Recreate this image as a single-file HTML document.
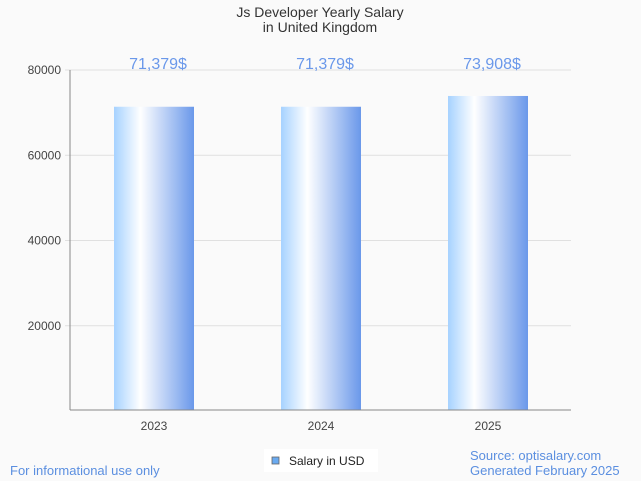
<!DOCTYPE html>
<html><head><meta charset="utf-8"><style>
body{margin:0;background:#fafafa;font-family:"Liberation Sans",sans-serif}
svg{display:block}
</style></head><body>
<svg id="chart" width="641" height="481">
<defs><linearGradient id="g" x1="0" x2="1" y1="0" y2="0">
<stop offset="0" stop-color="#a6d2ff"/><stop offset="0.33" stop-color="#ffffff"/><stop offset="1" stop-color="#6a98ea"/></linearGradient></defs>
<rect width="641" height="481" fill="#fafafa"/>
<text x="320" y="17" text-anchor="middle" font-size="14" fill="#333">Js Developer Yearly Salary</text>
<text x="320" y="32" text-anchor="middle" font-size="14" fill="#333">in United Kingdom</text>
<g id="grid"></g><g id="bars"></g>
<line x1="70" y1="70" x2="70" y2="410" stroke="#888"/>
<line x1="70" y1="410" x2="571" y2="410" stroke="#888"/>
<text x="10" y="475" font-size="13" fill="#5b8fe0">For informational use only</text>
<text x="470" y="460" font-size="13" fill="#5b8fe0">Source: optisalary.com</text>
<text x="470" y="475" font-size="13" fill="#5b8fe0">Generated February 2025</text>
<g>
<rect x="264" y="449" width="114" height="23" fill="#fff"/>
<rect x="272" y="457" width="7" height="7" fill="#6aaaf0" stroke="#666" stroke-width="0.8"/>
<text x="289" y="465" font-size="12" fill="#222">Salary in USD</text>
</g>
</svg>
<script>
const categories=["2023","2024","2025"];
const values=[71379,71379,73908];
const labels=["71,379$","71,379$","73,908$"];
const ticks=[20000,40000,60000,80000];
const NS="http://www.w3.org/2000/svg";
const y=v=>411-v/80000*341;
const x=i=>154+i*167;
const grid=document.getElementById('grid'),bars=document.getElementById('bars');
function mk(t,a,p){const e=document.createElementNS(NS,t);for(const k in a)e.setAttribute(k,a[k]);p.appendChild(e);return e;}
ticks.forEach(t=>{
 const l=mk('line',{x1:65,x2:571,y1:y(t),y2:y(t),stroke:'#e0e0e0'},grid);
 
 
 const tx=mk('text',{x:61,y:y(t)+4,'text-anchor':'end','font-size':12,fill:'#444'},grid);
 tx.textContent=t;
 
 
});
categories.forEach((c,i)=>{
 const r=mk('rect',{x:x(i)-40,y:y(values[i]),width:80,height:410-y(values[i]),fill:'url(#g)'},bars);
 
 
 const v=mk('text',{x:x(i)+4,y:69,'text-anchor':'middle','font-size':16,fill:'#6a98ea'},bars);
 v.textContent=labels[i];
 
 
 const xl=mk('text',{x:x(i),y:430,'text-anchor':'middle','font-size':12,fill:'#444'},bars);
 xl.textContent=c;
 
 
});
</script>
</body></html>
